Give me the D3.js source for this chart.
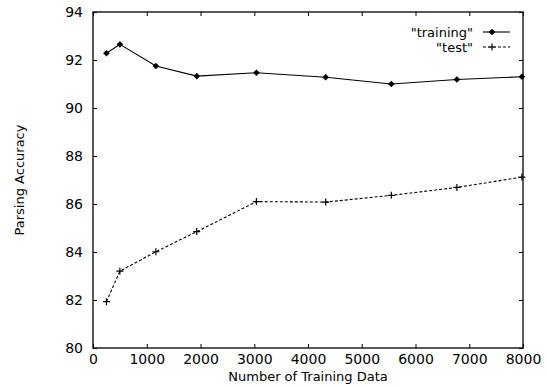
<!DOCTYPE html>
<html><head><meta charset="utf-8">
<script src="https://cdn.jsdelivr.net/npm/d3@7"></script>
<style>body{margin:0;background:#fff}svg{display:block}text{font-family:"DejaVu Sans",sans-serif;fill:#000}</style>
</head><body>
<script>
const trainSizes = [250, 500, 1170, 1930, 3040, 4330, 5550, 6770, 7980];
const trainingAcc = [92.28, 92.65, 91.75, 91.33, 91.47, 91.28, 91.0, 91.19, 91.3];
const testAcc = [81.93, 83.2, 84.01, 84.85, 86.1, 86.08, 86.36, 86.69, 87.12];
const xTicks = [0, 1000, 2000, 3000, 4000, 5000, 6000, 7000, 8000];
const yTicks = [80, 82, 84, 86, 88, 90, 92, 94];
const seriesNames = ['"training"', '"test"'];

const W = 549, H = 386;
const m = {l: 93, r: 26, t: 12, b: 38};
const FONT = '"DejaVu Sans",sans-serif';
const svg = d3.select("body").append("svg").attr("width", W).attr("height", H);
const x = d3.scaleLinear().domain([0, 8000]).range([m.l, W - m.r]);
const y = d3.scaleLinear().domain([80, 94]).range([H - m.b, m.t]);

const fs = 14;
const gB = svg.append("g").attr("transform", `translate(0,${H - m.b})`)
  .call(d3.axisBottom(x).tickValues(xTicks).tickFormat(d3.format("d")).tickSizeInner(-4).tickSizeOuter(0).tickPadding(6));
const gT = svg.append("g").attr("transform", `translate(0,${m.t})`)
  .call(d3.axisTop(x).tickValues(xTicks).tickSizeInner(-4).tickSizeOuter(0).tickFormat(""));
const gL = svg.append("g").attr("transform", `translate(${m.l},0)`)
  .call(d3.axisLeft(y).tickValues(yTicks).tickSizeInner(-4).tickSizeOuter(0).tickPadding(10));
const gR = svg.append("g").attr("transform", `translate(${W - m.r},0)`)
  .call(d3.axisRight(y).tickValues(yTicks).tickSizeInner(-4).tickSizeOuter(0).tickFormat(""));
[gB, gT, gL, gR].forEach(g => {
  g.select(".domain").remove();
  g.selectAll("line").attr("stroke", "#000").attr("stroke-width", 1);
  g.selectAll("text").attr("font-size", fs).attr("font-family", FONT).attr("fill", "#000");
});
svg.append("rect").attr("x", m.l).attr("y", m.t).attr("width", W - m.r - m.l).attr("height", H - m.b - m.t)
  .attr("fill", "none").attr("stroke", "#000").attr("stroke-width", 1.3);

svg.append("text").attr("x", 308).attr("y", 381).attr("text-anchor", "middle").attr("font-size", 13)
  .text("Number of Training Data");
svg.append("text").attr("transform", "translate(24,180) rotate(-90)").attr("text-anchor", "middle").attr("font-size", 13)
  .text("Parsing Accuracy");

const line = d3.line().x(d => x(d[0])).y(d => y(d[1]));
const trainPts = trainSizes.map((s, i) => [s, trainingAcc[i]]);
const testPts = trainSizes.map((s, i) => [s, testAcc[i]]);

svg.append("path").datum(trainPts).attr("d", line).attr("fill", "none").attr("stroke", "#000").attr("stroke-width", 1.1);
svg.append("path").datum(testPts).attr("d", line).attr("fill", "none").attr("stroke", "#000").attr("stroke-width", 1.1)
  .attr("stroke-dasharray", "3,2");

const dm = "M0,-3.3L3.3,0L0,3.3L-3.3,0Z";
svg.selectAll(".tm").data(trainPts).join("path").attr("class", "tm")
  .attr("transform", d => `translate(${x(d[0])},${y(d[1])})`).attr("d", dm).attr("fill", "#000");
function plus(g, cx, cy) {
  g.append("path").attr("d", `M${cx-3.5},${cy}H${cx+3.5}M${cx},${cy-3.5}V${cy+3.5}`).attr("stroke", "#000").attr("stroke-width", 1.2);
}
testPts.forEach(d => plus(svg, x(d[0]), y(d[1])));

const lg = svg.append("g");
const ly = [32, 47];
seriesNames.forEach((n, i) => {
  lg.append("text").attr("x", 473).attr("y", ly[i] + 5).attr("text-anchor", "end").attr("font-size", 13).text(n);
  lg.append("line").attr("x1", 483).attr("x2", 510).attr("y1", ly[i]).attr("y2", ly[i]).attr("stroke", "#000")
    .attr("stroke-width", 1.1).attr("stroke-dasharray", i ? "3,2" : null);
});
lg.append("path").attr("transform", `translate(492,${ly[0]})`).attr("d", dm).attr("fill", "#000");
plus(lg, 492, ly[1]);
</script>
</body></html>
